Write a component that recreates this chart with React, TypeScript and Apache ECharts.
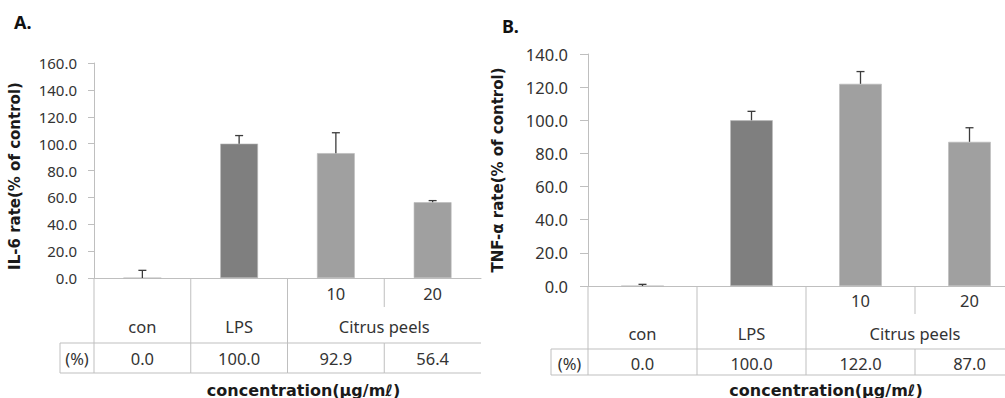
import React, { useEffect, useRef } from 'react';
import * as echarts from 'echarts';

// ---------- data ----------
const categories = ['con', 'LPS', '10', '20'];
const groupLabels = ['con', 'LPS', 'Citrus peels', 'Citrus peels'];
const subLabels = ['', '', '10', '20'];
const il6Values = [0.0, 100.0, 92.9, 56.4];
const il6Errors = [5.7, 6.0, 15.2, 1.2];
const tnfValues = [0.0, 100.0, 122.0, 87.0];
const tnfErrors = [1.0, 5.4, 7.4, 8.5];
const il6Max = 160;
const tnfMax = 140;
const tickStep = 20;
const panelTitles = ['A.', 'B.'];
const yTitles = ['IL-6 rate(% of control)', 'TNF-α rate(% of control)'];
const xTitle = 'concentration(μg/mℓ)';
const unitLabel = '(%)';

// ---------- styles ----------
const FONT = '"Noto Sans", "Open Sans", sans-serif';
const BOLD_FONT = '"DejaVu Sans", "Noto Sans", sans-serif';
const TEXT = '#333333';
const GRID_LINE = '#bfbfbf';
const ERR = '#3c3c3c';
const barColorByGroup: Record<string, string> = {
  con: '#7f7f7f',
  LPS: '#7f7f7f',
  'Citrus peels': '#a0a0a0',
};

type TableCfg = {
  sub: number;
  group: number;
  rowTop: number;
  rowBottom: number;
  val: number;
  subDiv: number;
  pctW: number;
  fontSize: number;
};

const tableA: TableCfg = { sub: 15, group: 48, rowTop: 65, rowBottom: 95, val: 80, subDiv: 29, pctW: 34, fontSize: 16.5 };
const tableB: TableCfg = { sub: 14, group: 47, rowTop: 63, rowBottom: 89, val: 77, subDiv: 28, pctW: 37, fontSize: 16.5 };

function tableRenderer(cfg: TableCfg, values: number[]) {
  return (params: any, api: any) => {
    const i = api.value(0) as number;
    const pt = api.coord([i, 0]);
    const cx = pt[0];
    const y0 = pt[1];
    const bw = api.size([1, 0])[0];
    const xl = cx - bw / 2;
    const xr = cx + bw / 2;
    const line = (x1: number, y1: number, x2: number, y2: number) => ({
      type: 'line',
      shape: { x1, y1, x2, y2 },
      style: { stroke: GRID_LINE, lineWidth: 1 },
    });
    const text = (t: string, x: number, y: number) => ({
      type: 'text',
      style: {
        text: t,
        x,
        y,
        align: 'center',
        verticalAlign: 'middle',
        fontSize: cfg.fontSize,
        fontFamily: FONT,
        fill: TEXT,
      },
    });
    const ch: any[] = [];
    const startsGroup = i === 0 || groupLabels[i] !== groupLabels[i - 1];
    if (startsGroup) {
      ch.push(line(xl, y0, xl, y0 + cfg.rowBottom));
    } else {
      ch.push(line(xl, y0, xl, y0 + cfg.subDiv));
      ch.push(line(xl, y0 + cfg.rowTop, xl, y0 + cfg.rowBottom));
    }
    ch.push(line(xl, y0 + cfg.rowTop, xr, y0 + cfg.rowTop));
    ch.push(line(xl, y0 + cfg.rowBottom, xr, y0 + cfg.rowBottom));
    if (i === 0) {
      const xp = xl - cfg.pctW;
      ch.push(line(xp, y0 + cfg.rowTop, xl, y0 + cfg.rowTop));
      ch.push(line(xp, y0 + cfg.rowBottom, xl, y0 + cfg.rowBottom));
      ch.push(line(xp, y0 + cfg.rowTop, xp, y0 + cfg.rowBottom));
      ch.push(text(unitLabel, xp + cfg.pctW / 2, y0 + cfg.val));
    }
    if (subLabels[i]) ch.push(text(subLabels[i], cx, y0 + cfg.sub));
    ch.push(text(values[i].toFixed(1), cx, y0 + cfg.val));
    if (startsGroup) {
      let span = 1;
      while (i + span < groupLabels.length && groupLabels[i + span] === groupLabels[i]) span++;
      ch.push(text(groupLabels[i], xl + (span * bw) / 2, y0 + cfg.group));
    }
    return { type: 'group', children: ch };
  };
}

function errorRenderer() {
  return (params: any, api: any) => {
    const i = api.value(0);
    const v = api.value(1);
    const e = api.value(2);
    const p0 = api.coord([i, v]);
    const p1 = api.coord([i, v + e]);
    const st = { stroke: ERR, lineWidth: 1.3 };
    return {
      type: 'group',
      children: [
        { type: 'line', shape: { x1: p0[0], y1: p0[1], x2: p1[0], y2: p1[1] }, style: st },
        { type: 'line', shape: { x1: p1[0] - 4, y1: p1[1], x2: p1[0] + 4, y2: p1[1] }, style: st },
      ],
    };
  };
}

function panelSeries(idx: number, values: number[], errors: number[], cfg: TableCfg) {
  return [
    {
      type: 'bar',
      xAxisIndex: idx,
      yAxisIndex: idx,
      barWidth: '39%',
      data: values.map((v, i) => ({ value: v, itemStyle: { color: barColorByGroup[groupLabels[i]] } })),
      itemStyle: { borderColor: '#b8b8b8', borderWidth: 0.6 },
      silent: true,
    },
    {
      type: 'custom',
      xAxisIndex: idx,
      yAxisIndex: idx,
      renderItem: errorRenderer(),
      data: values.map((v, i) => [i, v, errors[i]]),
      z: 10,
      clip: false,
      silent: true,
    },
    {
      type: 'custom',
      xAxisIndex: idx,
      yAxisIndex: idx,
      renderItem: tableRenderer(cfg, values),
      data: categories.map((c, i) => [i, 0]),
      clip: false,
      silent: true,
    },
  ];
}

function xAxisFor(idx: number, gap: number, shift: number) {
  return {
    type: 'category',
    gridIndex: idx,
    data: categories,
    axisLine: { lineStyle: { color: GRID_LINE, width: 1 } },
    axisTick: { show: false },
    axisLabel: { show: false },
    name: xTitle,
    nameLocation: 'middle',
    nameGap: gap,
    nameTextStyle: {
      fontFamily: BOLD_FONT,
      fontSize: 16,
      fontWeight: 'bold',
      color: '#1a1a1a',
      padding: [0, 0, 0, shift * 2],
    },
  };
}

function yAxisFor(
  idx: number,
  max: number,
  name: string,
  gap: number,
  fontSize: number,
  margin: number,
  tickLen: number,
  namePad: number[]
) {
  return {
    type: 'value',
    gridIndex: idx,
    min: 0,
    max,
    interval: tickStep,
    axisLine: { show: true, lineStyle: { color: GRID_LINE, width: 1 } },
    axisTick: { show: true, length: tickLen, lineStyle: { color: GRID_LINE } },
    splitLine: { show: false },
    axisLabel: {
      formatter: (v: number) => v.toFixed(1),
      fontFamily: FONT,
      fontSize,
      color: TEXT,
      margin,
    },
    name,
    nameLocation: 'middle',
    nameRotate: 90,
    nameGap: gap,
    nameTextStyle: {
      fontFamily: BOLD_FONT,
      fontSize: 15,
      fontWeight: 'bold',
      color: '#1a1a1a',
      padding: namePad,
    },
  };
}

export default function App() {
  const ref = useRef<HTMLDivElement>(null);
  useEffect(() => {
    if (!ref.current) return;
    const chart = echarts.init(ref.current, null, { renderer: 'svg' });
    chart.setOption({
      animation: false,
      backgroundColor: '#ffffff',
      title: [
        { text: panelTitles[0], left: 14, top: 13, padding: 0, textStyle: { fontFamily: FONT, fontSize: 18, fontWeight: 'bold', color: '#111' } },
        { text: panelTitles[1], left: 502, top: 17, padding: 0, textStyle: { fontFamily: FONT, fontSize: 18, fontWeight: 'bold', color: '#111' } },
      ],
      grid: [
        { left: 94, top: 63, width: 387, height: 215, outerBoundsMode: 'none' },
        { left: 588, top: 54, width: 436, height: 232, outerBoundsMode: 'none' },
      ],
      xAxis: [xAxisFor(0, 104, 16), xAxisFor(1, 96, 20)],
      yAxis: [
        yAxisFor(0, il6Max, yTitles[0], 72, 15, 17, 6, [0, 11, 0, 0]),
        yAxisFor(1, tnfMax, yTitles[1], 83, 16.5, 20, 8, [0, 0, 0, 0]),
      ],
      series: [
        ...panelSeries(0, il6Values, il6Errors, tableA),
        ...panelSeries(1, tnfValues, tnfErrors, tableB),
      ],
    });
    return () => chart.dispose();
  }, []);
  return (
    <div
      ref={ref}
      style={{ position: 'absolute', left: 0, top: 0, width: 1005, height: 398, overflow: 'hidden' }}
    />
  );
}
